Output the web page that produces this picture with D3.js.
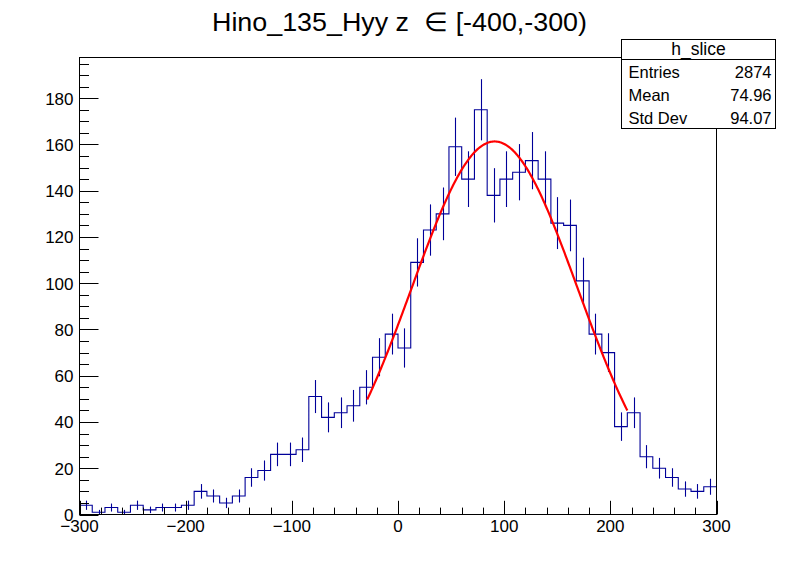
<!DOCTYPE html>
<html><head><meta charset="utf-8">
<script src="https://cdn.jsdelivr.net/npm/d3@7"></script>
<style>
body{margin:0;background:#fff}
text{font-family:"Liberation Sans",Arial,Helvetica,sans-serif;fill:#000}
</style>
</head><body><svg id="c" width="796" height="572"></svg>
<script>
// ---- data ----
const binLowEdges = [-300,-288,-276,-264,-252,-240,-228,-216,-204,-192,
  -180,-168,-156,-144,-132,-120,-108,-96,-84,-72,
  -60,-48,-36,-24,-12,0,12,24,36,48,
  60,72,84,96,108,120,132,144,156,168,
  180,192,204,216,228,240,252,264,276,288];
const binWidth = 12;
const counts = [4,1,3,1,4,2,3,3,4,10,
  8,5,8,16,19,26,26,28,51,42,
  44,47,55,68,78,72,109,123,130,159,
  145,175,138,145,148,153,145,126,125,101,
  78,70,38,44,25,20,16,11,10,12];
const xTickValues = [-300,-200,-100,0,100,200,300];
const yTickValues = [0,20,40,60,80,100,120,140,160,180];
const titleText = "Hino_135_Hyy z  \u2208 [-400,-300)";
const statsTitle = "h_slice";
const statsLabels = ["Entries","Mean","Std Dev"];
const statsValues = ["2874","74.96","94.07"];
const fitConstant = 161.3, fitMean = 91.0, fitSigma = 78.2;
const fitRange = [-29, 216];
const xDomain = [-300, 300];
const yDomain = [0, 197.6];

// ---- layout ----
const L = 79.5, R = 716.5, T = 57.5, B = 514.5;
const histColor = "#000099";
const svg = d3.select("#c");
svg.append("rect").attr("width",796).attr("height",572).attr("fill","#fff");

const x = d3.scaleLinear().domain(xDomain).range([L, R]);
const y = d3.scaleLinear().domain(yDomain).range([B, T]);

// histogram step outline
const stepPts = binLowEdges.map((e,i)=>[e, counts[i]]);
stepPts.push([binLowEdges[binLowEdges.length-1]+binWidth, counts[counts.length-1]]);
const stepLine = d3.line().x(d=>x(d[0])).y(d=>y(d[1])).curve(d3.curveStepAfter);
svg.append("path").attr("d", stepLine(stepPts)).attr("fill","none")
  .attr("stroke", histColor).attr("stroke-width",1.1);

// error bars
svg.append("g").selectAll("line").data(binLowEdges.map((e,i)=>({c:e+binWidth/2, v:counts[i]})).filter(d=>d.v>0))
  .join("line")
  .attr("x1",d=>Math.round(x(d.c))+0.5).attr("x2",d=>Math.round(x(d.c))+0.5)
  .attr("y1",d=>y(Math.max(0,d.v-Math.sqrt(d.v))))
  .attr("y2",d=>y(d.v+Math.sqrt(d.v)))
  .attr("stroke", histColor).attr("stroke-width",1.1);

// fit curve
const fitXs = d3.range(fitRange[0], fitRange[1]+0.01, 1);
const gaus = v => fitConstant*Math.exp(-0.5*Math.pow((v-fitMean)/fitSigma,2));
svg.append("path").attr("d", d3.line().x(d=>x(d)).y(d=>y(gaus(d)))(fitXs))
  .attr("fill","none").attr("stroke","#ff0000").attr("stroke-width",2.2);

// frame
svg.append("rect").attr("x",L).attr("y",T).attr("width",R-L).attr("height",B-T)
  .attr("fill","none").attr("stroke","#000").attr("stroke-width",1);

// x axis ticks
const xMinor = d3.range(xDomain[0], xDomain[1]+1, 20);
svg.append("g").selectAll("line").data(xMinor).join("line")
  .attr("x1",d=>Math.round(x(d))+0.5).attr("x2",d=>Math.round(x(d))+0.5)
  .attr("y1",B).attr("y2",d=>xTickValues.includes(d)? B-13.7 : B-6.9)
  .attr("stroke","#000");
svg.append("g").selectAll("text").data(xTickValues).join("text")
  .attr("x",d=>x(d)).attr("y",532).attr("text-anchor","middle")
  .attr("font-size",17).text(d=>d<0? "\u2212"+Math.abs(d) : String(d));

// y axis ticks
const yMinor = d3.range(0, 196, 5);
svg.append("g").selectAll("line").data(yMinor).join("line")
  .attr("y1",d=>Math.round(y(d))+0.5).attr("y2",d=>Math.round(y(d))+0.5)
  .attr("x1",L).attr("x2",d=>yTickValues.includes(d)? L+19 : L+9.5)
  .attr("stroke","#000");
svg.append("g").selectAll("text").data(yTickValues).join("text")
  .attr("x",73.5).attr("y",d=>y(d)+6.5).attr("text-anchor","end")
  .attr("font-size",17).text(d=>String(d));

// title
svg.append("text").attr("x",212).attr("y",30.5).attr("text-anchor","start")
  .attr("font-size",25.5).attr("textLength",375).attr("lengthAdjust","spacingAndGlyphs")
  .attr("xml:space","preserve").style("white-space","pre").text(titleText);

// stats box
const sb = {x:621.5, y:39.5, w:154, h:89, hh:20};
svg.append("rect").attr("x",sb.x).attr("y",sb.y).attr("width",sb.w).attr("height",sb.h)
  .attr("fill","#fff").attr("stroke","#000");
svg.append("line").attr("x1",sb.x).attr("x2",sb.x+sb.w).attr("y1",sb.y+sb.hh).attr("y2",sb.y+sb.hh).attr("stroke","#000");
svg.append("text").attr("x",sb.x+sb.w/2).attr("y",sb.y+15.5).attr("text-anchor","middle")
  .attr("font-size",17.5).text(statsTitle);
const rowH = (sb.h-sb.hh)/statsLabels.length;
statsLabels.forEach((lab,i)=>{
  const by = sb.y+sb.hh+rowH*i+rowH/2+6.5;
  svg.append("text").attr("x",sb.x+7).attr("y",by).attr("font-size",16.5).text(lab);
  svg.append("text").attr("x",sb.x+sb.w-4).attr("y",by).attr("text-anchor","end").attr("font-size",16.5).text(statsValues[i]);
});
</script>
</body></html>
